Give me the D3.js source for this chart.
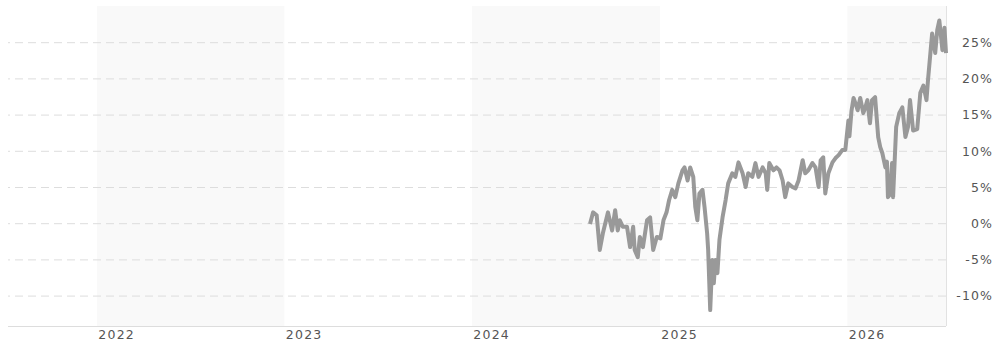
<!DOCTYPE html>
<html>
<head>
<meta charset="utf-8">
<script src="https://cdn.jsdelivr.net/npm/d3@7"></script>
<style>
  html, body { margin: 0; padding: 0; background: #fff; }
  svg { display: block; }
  text { font-family: "DejaVu Sans", Verdana, sans-serif; fill: #555; }
</style>
</head>
<body>
<svg id="chart" width="994" height="345"></svg>
<script>
// ---- Data ----
const dates = [
  "2024-08-18","2024-08-24","2024-08-31","2024-09-06","2024-09-12","2024-09-22","2024-09-30",
  "2024-10-06","2024-10-11","2024-10-15","2024-10-21","2024-10-29","2024-11-04","2024-11-10",
  "2024-11-13","2024-11-19","2024-11-23","2024-11-29","2024-12-07","2024-12-13","2024-12-19",
  "2024-12-26","2025-01-02","2025-01-08","2025-01-14","2025-01-19","2025-01-25","2025-01-31",
  "2025-02-06","2025-02-14","2025-02-18","2025-02-24","2025-03-01","2025-03-07","2025-03-11",
  "2025-03-15","2025-03-19","2025-03-25","2025-03-29","2025-04-03","2025-04-05","2025-04-09",
  "2025-04-13","2025-04-16","2025-04-19","2025-04-23","2025-04-27","2025-05-03","2025-05-09",
  "2025-05-14","2025-05-22","2025-05-28","2025-06-03","2025-06-11","2025-06-17","2025-06-22",
  "2025-06-30","2025-07-06","2025-07-12","2025-07-20","2025-07-26","2025-07-29","2025-08-02",
  "2025-08-10","2025-08-16","2025-08-22","2025-08-28","2025-09-02","2025-09-08","2025-09-16",
  "2025-09-22","2025-09-28","2025-10-06","2025-10-11","2025-10-17","2025-10-25","2025-10-31",
  "2025-11-06","2025-11-10","2025-11-15","2025-11-19","2025-11-25","2025-12-03","2025-12-09",
  "2025-12-15","2025-12-22","2025-12-28","2026-01-03","2026-01-05","2026-01-09","2026-01-13",
  "2026-01-17","2026-01-21","2026-01-26","2026-02-01","2026-02-05","2026-02-09","2026-02-12",
  "2026-02-14","2026-02-18","2026-02-24","2026-03-02","2026-03-06","2026-03-10","2026-03-16",
  "2026-03-19","2026-03-21","2026-03-25","2026-03-29","2026-03-31","2026-04-06","2026-04-12",
  "2026-04-18","2026-04-24","2026-04-29","2026-05-03","2026-05-09","2026-05-17","2026-05-23",
  "2026-05-29","2026-06-04","2026-06-07","2026-06-15","2026-06-21","2026-06-25","2026-06-29",
  "2026-07-05","2026-07-09","2026-07-12"
];
const values = [
  -0.1, 1.5, 1.1, -3.7, -1.4, 1.5, -1.0,
  1.8, -1.0, 0.4, -0.5, -0.5, -3.3, -0.5,
  -3.7, -4.7, -1.9, -3.3, 0.4, 0.8, -3.7,
  -1.9, -2.1, 0.4, 1.5, 3.2, 4.6, 3.6,
  5.5, 7.3, 7.7, 5.9, 7.7, 6.4, 2.2,
  0.4, 4.1, 4.6, 2.2, -1.4, -3.7, -12.0,
  -5.1, -8.3, -5.1, -6.9, -2.3, 0.8, 3.2,
  5.5, 6.9, 6.4, 8.4, 6.9, 5.0, 6.9,
  6.4, 8.3, 6.4, 7.7, 6.9, 4.6, 8.3,
  7.3, 7.7, 7.3, 5.9, 3.6, 5.5, 5.0,
  4.8, 5.9, 8.7, 6.9, 7.3, 8.3, 7.7,
  5.0, 8.7, 9.1, 4.1, 6.9, 8.4, 9.0,
  9.4, 10.1, 10.1, 14.2, 12.0, 15.5, 17.3,
  16.5, 15.6, 17.3, 15.2, 16.0, 17.0, 15.0,
  13.8, 17.0, 17.4, 11.9, 10.5, 9.7, 7.7,
  8.5, 3.6, 4.0, 8.3, 3.6, 13.3, 15.2,
  16.0, 11.9, 13.3, 17.0, 12.8, 13.0, 18.0,
  19.0, 17.0, 19.8, 26.2, 23.5, 26.7, 28.0,
  23.9, 27.0, 23.5
];
const yTicks = [-10, -5, 0, 5, 10, 15, 20, 25];
const yearLabels = ["2022", "2023", "2024", "2025", "2026"];
const shadedYears = ["2022", "2024", "2026"];
const xDomain = ["2021-07-12", "2026-07-12"];
const yDomain = [-14.2, 30];

// ---- Layout ----
const parse = d3.timeParse("%Y-%m-%d");
const plot = { left: 8, right: 946, top: 6, bottom: 326 };
const svg = d3.select("#chart");

const x = d3.scaleTime()
  .domain(xDomain.map(parse))
  .range([plot.left, plot.right]);
const y = d3.scaleLinear()
  .domain(yDomain)
  .range([plot.bottom, plot.top]);

// Shaded year bands
const bands = svg.append("g");
shadedYears.forEach(yr => {
  const start = new Date(+yr, 0, 1);
  const end = new Date(+yr + 1, 0, 1);
  const x0 = Math.max(x(start), plot.left);
  const x1 = Math.min(x(end), plot.right);
  bands.append("rect")
    .attr("x", x0).attr("y", plot.top)
    .attr("width", x1 - x0).attr("height", plot.bottom - plot.top)
    .attr("fill", "#f9f9f9");
});

// Grid lines
const yAxis = d3.axisRight(y)
  .tickValues(yTicks)
  .tickSize(-(plot.right - plot.left))
  .tickFormat(d => d + "%");
const gy = svg.append("g")
  .attr("transform", `translate(${plot.right},0)`)
  .call(yAxis);
gy.select(".domain").remove();
gy.selectAll(".tick line")
  .attr("stroke", "#dddddd")
  .attr("stroke-width", 1)
  .attr("stroke-dasharray", "8,5");
gy.selectAll(".tick text")
  .attr("x", 47)
  .attr("text-anchor", "end")
  .attr("dy", "0.35em")
  .style("font-size", "12.5px")
  .style("letter-spacing", "1.1px")
  .style("fill", "#555");

// Right border line
svg.append("line")
  .attr("x1", plot.right + 0.5).attr("x2", plot.right + 0.5)
  .attr("y1", plot.top).attr("y2", plot.bottom)
  .attr("stroke", "#e2e2e2");

// Bottom axis
const xAxis = d3.axisBottom(x)
  .tickValues(yearLabels.map(yr => new Date(+yr, 0, 1)))
  .tickSize(0)
  .tickFormat(d3.timeFormat("%Y"));
const gx = svg.append("g")
  .attr("transform", `translate(0,${plot.bottom})`)
  .call(xAxis);
gx.select(".domain")
  .attr("stroke", "#dddddd")
  .attr("d", `M${plot.left},0.5H${plot.right}`);
gx.selectAll(".tick text")
  .attr("text-anchor", "start")
  .attr("x", 1)
  .attr("y", 13)
  .attr("dy", 0)
  .style("font-size", "12.5px")
  .style("letter-spacing", "1.2px")
  .style("fill", "#555");

// Line
const line = d3.line()
  .x((d, i) => x(parse(dates[i])))
  .y(d => y(d));
svg.append("path")
  .datum(values)
  .attr("fill", "none")
  .attr("stroke", "#999999")
  .attr("stroke-width", 4)
  .attr("stroke-linejoin", "round")
  .attr("d", line);
</script>
</body>
</html>
